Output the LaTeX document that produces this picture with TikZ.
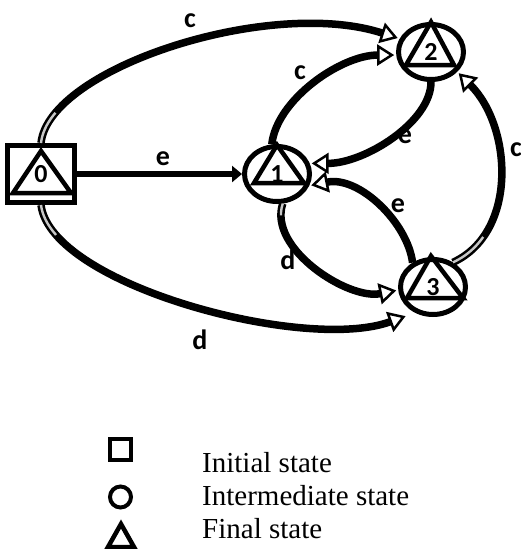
\documentclass[tikz,border=0pt]{standalone}
\usepackage{fontspec}
\setmainfont{Liberation Serif}
\newfontfamily\lblfont{Carlito}
\usetikzlibrary{arrows.meta,shapes.geometric}
\begin{document}
\begin{tikzpicture}[x=1pt,y=-1pt,
  numfont/.style={font=\lblfont\bfseries\fontsize{26}{26}\selectfont},
  st/.style={draw, line width=5pt, ellipse, minimum width=65pt, minimum height=55pt, inner sep=0pt, numfont},
  initst/.style={draw, line width=5pt, rectangle, minimum width=67pt, minimum height=57pt, inner sep=0pt, numfont},
  tri/.style={line width=4.5pt, line join=miter},
  rib/.style={line width=7.5pt, -{Triangle[open,fill=white,length=17pt,width=21pt,line width=2.5pt]}, shorten >=2pt},
  twist/.style={line width=2.4pt, draw=black!22, dash pattern=on #1 off 2000pt},
  lbl/.style={font=\lblfont\bfseries\fontsize{28}{28}\selectfont, inner sep=0pt},
  leg/.style={font=\fontsize{29}{33}\selectfont, anchor=base west, inner sep=0pt},
  legshape/.style={draw, line width=4pt, inner sep=0pt}
]
\useasboundingbox (0,0) rectangle (521,549);

% states
\node[initst] (n0) at (41,174) {\raisebox{-7pt}{0}};
\node[st] (n1) at (277,174) {1};
\node[st] (n2) at (431,52) {2};
\node[st] (n3) at (433,287) {3};

% triangles (final states)
\draw[tri, shift={(n0.center)}] (0,-23) -- (-28,19) -- (30,19) -- cycle;
\draw[tri, shift={(n1.center)}] (0,-29) -- (-23,9) -- (27,9) -- cycle;
\draw[tri, shift={(n2.center)}] (0,-30) -- (-25,13) -- (23,13) -- cycle;
\draw[tri, shift={(n3.center)}] (-2,-31) -- (-26,11) -- (30,11) -- cycle;

% connectors
\draw[rib] (n0.north) .. controls +(8,-75) and +(-130,-42) .. (n2.157);
\draw[twist=34pt] (n0.north) .. controls +(8,-75) and +(-130,-42) .. (n2.157);
\draw[line width=5.5pt, -{Triangle[length=10pt,width=16pt]}] (n0.east) -- (n1.180);
\draw[rib] (n1.100) .. controls +(5,-45) and +(-55,0) .. (n2.185);
\draw[rib] (n2.south) .. controls +(0,40) and +(55,0) .. (n1.18);
\draw[rib] (n3.51) .. controls +(65,-30) and +(55,55) .. (n2.323);
\draw[twist=40pt] (n3.51) .. controls +(65,-30) and +(55,55) .. (n2.323);
\draw[rib] (n3.130) .. controls +(-5,-40) and +(50,-10) .. (n1.340);
\draw[rib] (n1.281) .. controls +(-15,45) and +(-50,10) .. (n3.185);
\draw[twist=12pt] (n1.281) .. controls +(-15,45) and +(-50,10) .. (n3.185);
\draw[rib, shorten >=10pt] (n0.south) .. controls +(10,80) and +(-110,40) .. (n3.235);
\draw[twist=34pt] (n0.south) .. controls +(10,80) and +(-110,40) .. (n3.235);

% labels
\node[lbl] (lc1) at (190,21) {c};
\node[lbl] (le1) at (163,159) {e};
\node[lbl] (lc2) at (300,73) {c};
\node[lbl] (le2) at (405,137) {e};
\node[lbl] (lc3) at (516,150) {c};
\node[lbl] (le3) at (398,206) {e};
\node[lbl] (ld1) at (288,260) {d};
\node[lbl] (ld2) at (200,340) {d};

% legend
\node[legshape, rectangle, minimum width=21pt, minimum height=21pt] (lsq) at (120.5,449.5) {};
\node[legshape, circle, minimum size=21pt] (lci) at (120.5,497) {};
\draw[tri] (121,524) -- (108,547) -- (134,547) -- cycle;
\node[leg] (t1) at (202,472) {Initial state};
\node[leg] (t2) at (202,505) {Intermediate state};
\node[leg] (t3) at (202,538) {Final state};
\end{tikzpicture}
\end{document}
